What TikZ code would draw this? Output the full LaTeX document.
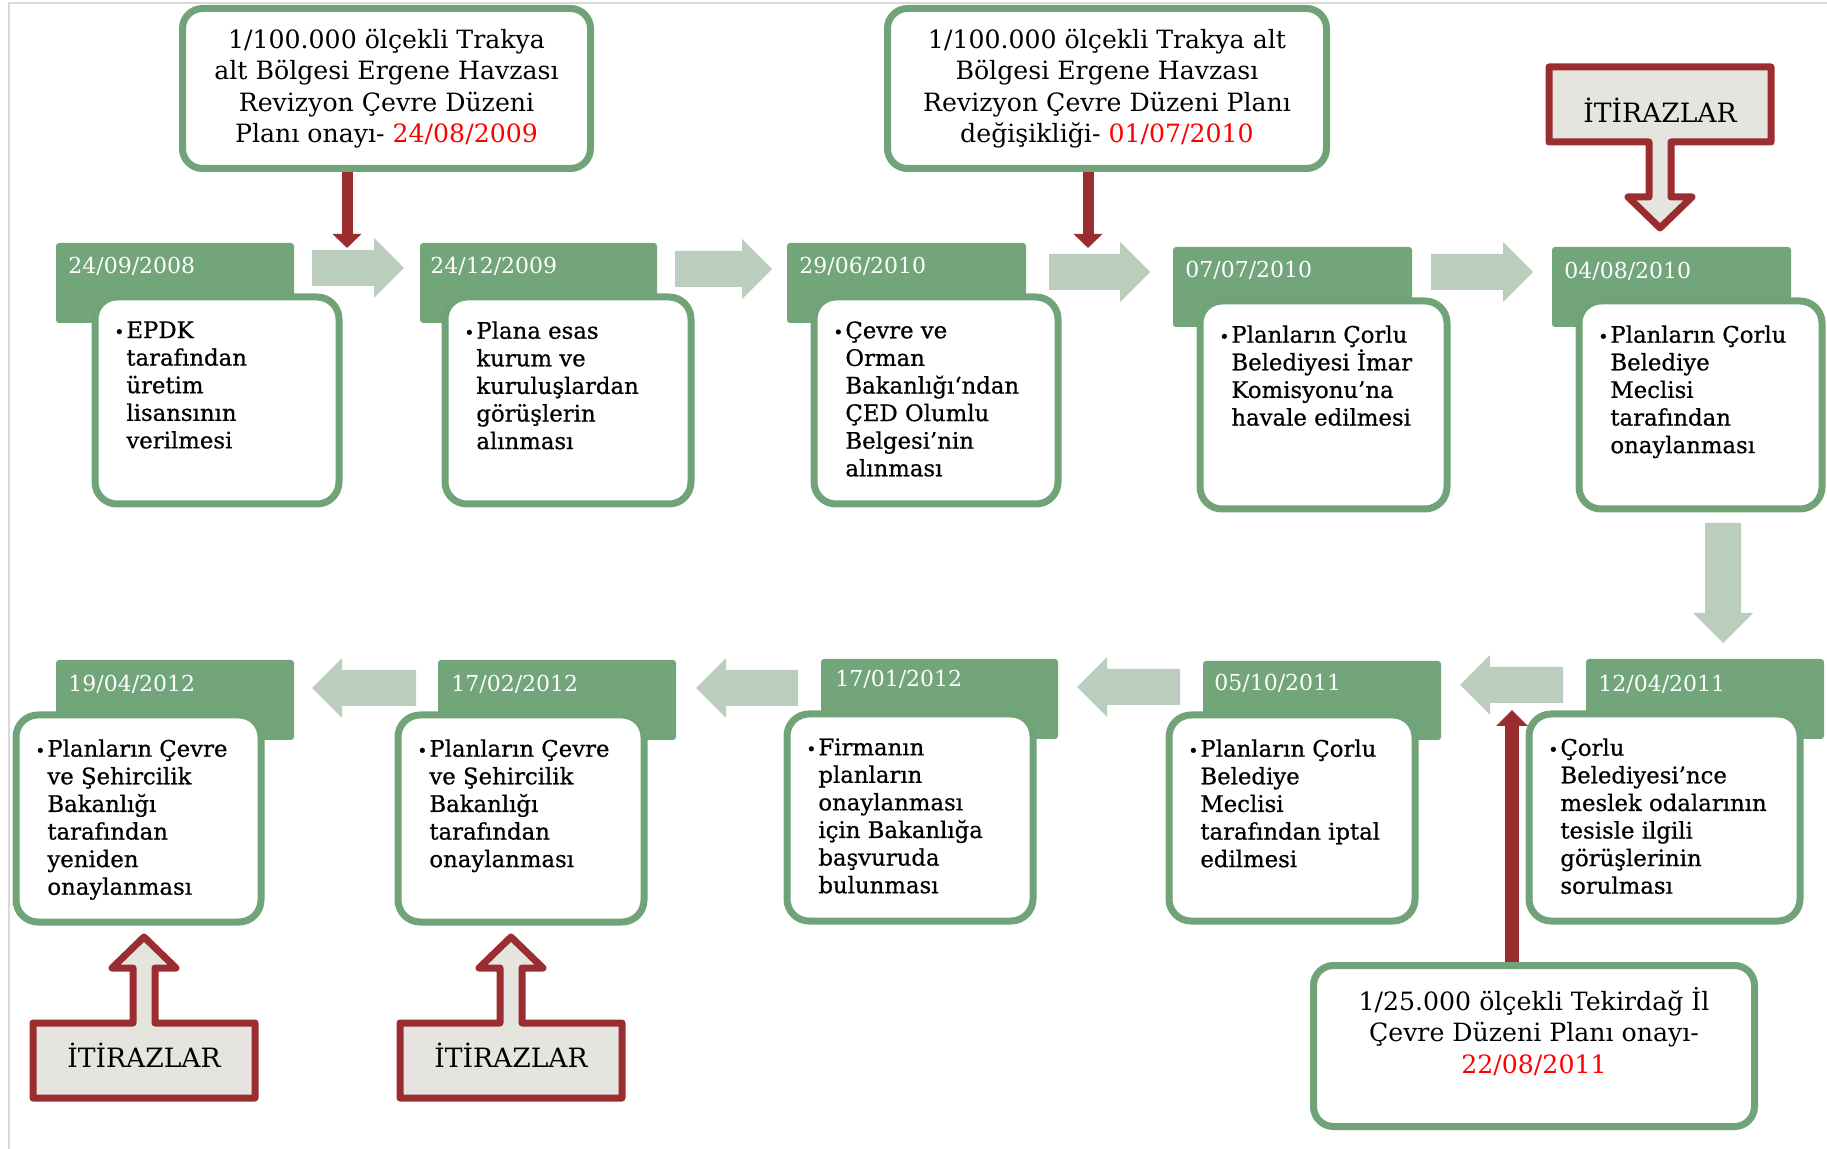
\documentclass[tikz,border=0pt]{standalone}
\usepackage{fontspec}
\setmainfont{DejaVu Serif}
\newfontfamily\heavyserif{DejaVu Serif}[FakeBold=0.7]
\usetikzlibrary{arrows.meta}

\definecolor{hdrgreen}{RGB}{114,165,122}
\definecolor{cardgreen}{RGB}{112,163,120}
\definecolor{palegreen}{RGB}{187,206,190}
\definecolor{darkred}{RGB}{155,45,49}
\definecolor{itzgray}{RGB}{229,228,223}
\newcommand{\blt}{\llap{\scalebox{0.75}{•}\hspace{1pt}}}

\tikzset{
  hdr/.style={fill=hdrgreen, rounded corners=1.5pt},
  card/.style={draw=cardgreen, fill=white, line width=3.5pt, rounded corners=11pt},
  date/.style={anchor=west, text=white, inner sep=0, font=\fontsize{11pt}{13pt}\selectfont},
  cardtxt/.style={anchor=north west, align=left, inner sep=0, font=\heavyserif\fontsize{11.4pt}{13.8pt}\selectfont},
  planbox/.style={draw=cardgreen, fill=white, line width=3.5pt, rounded corners=10pt,
    align=center, inner sep=0, font=\fontsize{12.6pt}{15.7pt}\selectfont},
  redarrow/.style={draw=darkred, line width=5.5pt, -{Triangle[width=14pt,length=7pt]}},
  itzline/.style={draw=darkred, fill=itzgray, line width=3.5pt, line join=round},
  itztext/.style={inner sep=0, font=\fontsize{13.3pt}{15pt}\selectfont},
  barrow/.pic={
    \fill[palegreen] (0,-18) -- (#1-30,-18) -- (#1-30,-30) -- (#1,0)
      -- (#1-30,30) -- (#1-30,18) -- (0,18) -- cycle;
  },
  itzcall/.pic={
    \path[itzline] (-111,161) -- (-111,86) -- (-11,86) -- (-11,31) -- (-32,31) -- (0,0)
      -- (32,31) -- (11,31) -- (11,86) -- (111,86) -- (111,161) -- cycle;
    \node[itztext] (-t) at (0,118) {İTİRAZLAR};
  }
}

\begin{document}
\begin{tikzpicture}[x=0.5pt,y=-0.5pt]
  \useasboundingbox (0,0) rectangle (1827,1149);
  \draw[gray!30, line width=1pt] (9,1149) -- (9,3) -- (1827,3);

  \coordinate (g1) at (347,248);
  \coordinate (g2) at (1088,248);
  \coordinate (g3) at (1512,710);

  \pic at (312,268) {barrow=92};
  \pic at (675,269) {barrow=97};
  \pic at (1049,272) {barrow=101};
  \pic at (1431,272) {barrow=102};
  \pic[rotate=-90] at (1723,523) {barrow=120};
  \pic[rotate=180] at (1563,685) {barrow=103};
  \pic[rotate=180] at (1180,687) {barrow=103};
  \pic[rotate=180] at (798,688) {barrow=102};
  \pic[rotate=180] at (416,688) {barrow=104};

  \fill[hdr] (56,243) rectangle (294,323);
  \draw[card] (95,297) rectangle (339,504);
  \node[date] (d1) at (68,266) {24/09/2008};
  \node[cardtxt] (t1) at (126,321) {\blt EPDK\\tarafından\\üretim\\lisansının\\verilmesi};

  \fill[hdr] (420,243) rectangle (657,323);
  \draw[card] (445,297) rectangle (691,504);
  \node[date] (d2) at (430,266) {24/12/2009};
  \node[cardtxt] (t2) at (476,321) {\blt Plana esas\\kurum ve\\kuruluşlardan\\görüşlerin\\alınması};

  \fill[hdr] (787,243) rectangle (1026,323);
  \draw[card] (814,297) rectangle (1058,504);
  \node[date] (d3) at (799,266) {29/06/2010};
  \node[cardtxt] (t3) at (845,321) {\blt Çevre ve\\Orman\\Bakanlığı‘ndan\\ÇED Olumlu\\Belgesi’nin\\alınması};

  \fill[hdr] (1173,247) rectangle (1412,327);
  \draw[card] (1200,301) rectangle (1447,509);
  \node[date] (d4) at (1185,270) {07/07/2010};
  \node[cardtxt] (t4) at (1231,325) {\blt Planların Çorlu\\Belediyesi İmar\\Komisyonu’na\\havale edilmesi};

  \fill[hdr] (1552,247) rectangle (1791,327);
  \draw[card] (1579,301) rectangle (1822,509);
  \node[date] (d5) at (1564,271) {04/08/2010};
  \node[cardtxt] (t5) at (1610,325) {\blt Planların Çorlu\\Belediye\\Meclisi\\tarafından\\onaylanması};

  \fill[hdr] (1586,659) rectangle (1824,739);
  \draw[card] (1529,714) rectangle (1800,921);
  \node[date] (d6) at (1598,684) {12/04/2011};
  \node[cardtxt] (t6) at (1560,738) {\blt Çorlu\\Belediyesi’nce\\meslek odalarının\\tesisle ilgili\\görüşlerinin\\sorulması};

  \fill[hdr] (1203,661) rectangle (1441,740);
  \draw[card] (1169,715) rectangle (1415,921);
  \node[date] (d7) at (1214,683) {05/10/2011};
  \node[cardtxt] (t7) at (1200,739) {\blt Planların Çorlu\\Belediye\\Meclisi\\tarafından iptal\\edilmesi};

  \fill[hdr] (821,659) rectangle (1058,739);
  \draw[card] (787,714) rectangle (1033,921);
  \node[date] (d8) at (835,679) {17/01/2012};
  \node[cardtxt] (t8) at (818,738) {\blt Firmanın\\planların\\onaylanması\\için Bakanlığa\\başvuruda\\bulunması};

  \fill[hdr] (438,660) rectangle (676,740);
  \draw[card] (398,715) rectangle (644,922);
  \node[date] (d9) at (451,684) {17/02/2012};
  \node[cardtxt] (t9) at (429,739) {\blt Planların Çevre\\ve Şehircilik\\Bakanlığı\\tarafından\\onaylanması};

  \fill[hdr] (56,660) rectangle (294,740);
  \draw[card] (16,715) rectangle (261,922);
  \node[date] (d10) at (68,684) {19/04/2012};
  \node[cardtxt] (t10) at (47,739) {\blt Planların Çevre\\ve Şehircilik\\Bakanlığı\\tarafından\\yeniden\\onaylanması};

  \node[planbox, minimum width=204pt, minimum height=80pt] (plan1) at (386.5,88.5)
    {1/100.000 ölçekli Trakya\\alt Bölgesi Ergene Havzası\\Revizyon Çevre Düzeni\\Planı onayı- \textcolor{red}{24/08/2009}};
  \node[planbox, minimum width=219.5pt, minimum height=80pt] (plan2) at (1107,88.5)
    {1/100.000 ölçekli Trakya alt\\Bölgesi Ergene Havzası\\Revizyon Çevre Düzeni Planı\\değişikliği- \textcolor{red}{01/07/2010}};
  \node[planbox, minimum width=220.5pt, minimum height=80.5pt] (plan3) at (1534,1046)
    {1/25.000 ölçekli Tekirdağ İl\\Çevre Düzeni Planı onayı-\\\textcolor{red}{22/08/2011}\\\mbox{}};

  \draw[redarrow] (plan1.south -| g1) -- (g1);
  \draw[redarrow] (plan2.south -| g2) -- (g2);
  \draw[redarrow, line width=7pt, -{Triangle[width=15.5pt,length=8pt]}] (plan3.north -| g3) -- (g3);

  \pic[yscale=-1] (itz1) at (1660,228) {itzcall};
  \pic (itz2) at (144,937) {itzcall};
  \pic (itz3) at (511,937) {itzcall};
\end{tikzpicture}
\end{document}
